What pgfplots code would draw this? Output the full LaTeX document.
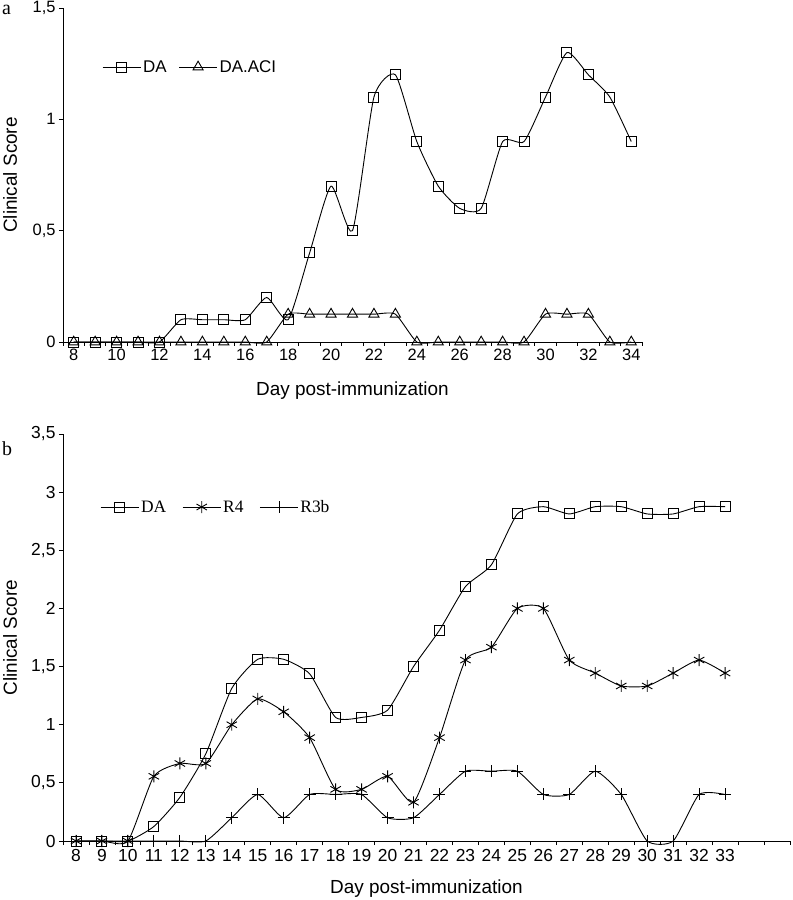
\documentclass[border=0pt]{standalone}
\usepackage{pgfplots}
\pgfplotsset{compat=1.18}
\usepackage{fontspec}
\setmainfont{Liberation Sans}
\newfontfamily\seriffont{Liberation Serif}

\pgfplotsset{
  clinical/.style={
    scale only axis,
    anchor=south west,
    axis x line=bottom, axis y line=left,
    axis line style={-, line width=0.8bp},
    tick align=outside,
    major tick length=4bp,
    tick style={line width=0.8bp, black},
    clip=false,
    xticklabels={},
    extra x tick style={major tick length=0pt},
    /pgf/number format/assume math mode=true,
    label style={font=\fontsize{19}{21}\selectfont},
    ylabel={Clinical Score},
    xlabel={Day post-immunization},
    legend style={draw=none, fill=none, inner sep=0pt, anchor=west, legend columns=-1},
    legend image code/.code={\draw[mark repeat=2,mark phase=2]
      plot coordinates {(0bp,0bp)(19bp,0bp)(38bp,0bp)};},
    every axis plot/.append style={black, line width=0.9bp, smooth, tension=0.35,
      mark options={solid, line width=0.9bp}},
  },
}

\begin{document}
\begin{tikzpicture}
\useasboundingbox (0,0) rectangle (793bp,900bp);

% panel a
\begin{axis}[clinical, at={(63bp,558bp)}, width=579bp, height=334bp,
  xmin=7.5, xmax=34.5, ymin=0, ymax=1.5,
  xtick={7.5,8.5,...,34.5},
  extra x ticks={8,10,...,34},
  extra x tick labels={8,10,12,14,16,18,20,22,24,26,28,30,32,34},
  ytick={0,0.5,1,1.5}, yticklabels={0,{0,5},1,{1,5}},
  tick label style={font=\fontsize{16.5}{18}\selectfont},
  xticklabel style={yshift=-4bp},
  xlabel style={at={(axis description cs:0.5,-0.1587)}, anchor=base},
  ylabel style={at={(axis description cs:-0.0915,0.5)}, anchor=center},
  legend style={at={(axis description cs:0.0674,0.8234)}, font=\fontsize{17}{19}\selectfont,
    /tikz/every even column/.append style={column sep=10bp}},
]
\addplot[mark=square, mark size=5bp] coordinates {
  (8,0)(9,0)(10,0)(11,0)(12,0)(13,0.1)(14,0.1)(15,0.1)(16,0.1)(17,0.2)
  (18,0.1)(19,0.4)(20,0.7)(21,0.5)(22,1.1)(23,1.2)(24,0.9)(25,0.7)(26,0.6)
  (27,0.6)(28,0.9)(29,0.9)(30,1.1)(31,1.3)(32,1.2)(33,1.1)(34,0.9)
};
\addlegendentry{DA}
\addplot[mark=triangle, mark size=5.8bp] coordinates {
  (8,0)(9,0)(10,0)(11,0)(12,0)(13,0)(14,0)(15,0)(16,0)(17,0)
  (18,0.125)(19,0.125)(20,0.125)(21,0.125)(22,0.125)(23,0.125)(24,0)(25,0)(26,0)
  (27,0)(28,0)(29,0)(30,0.125)(31,0.125)(32,0.125)(33,0)(34,0)
};
\addlegendentry{DA.ACI}
\end{axis}

% panel b
\begin{axis}[clinical, at={(63bp,59bp)}, width=727bp, height=407bp,
  xmin=7.5, xmax=35.5, ymin=0, ymax=3.5,
  xtick={7.5,8.5,...,35.5},
  extra x ticks={8,9,...,33},
  extra x tick labels={8,9,10,11,12,13,14,15,16,17,18,19,20,21,22,23,24,25,26,27,28,29,30,31,32,33},
  ytick={0,0.5,...,3.5}, yticklabels={0,{0,5},1,{1,5},2,{2,5},3,{3,5}},
  tick label style={font=\fontsize{17.5}{19}\selectfont},
  xticklabel style={yshift=-5bp},
  xlabel style={at={(axis description cs:0.5,-0.1278)}, anchor=base},
  ylabel style={at={(axis description cs:-0.0729,0.5)}, anchor=center},
  legend style={at={(axis description cs:0.0509,0.8206)}, font=\seriffont\fontsize{17.5}{19}\selectfont,
    /tikz/every even column/.append style={column sep=14bp}},
]
\addplot[mark=square, mark size=5bp] coordinates {
  (8,0)(9,0)(10,0)(11,0.125)(12,0.375)(13,0.75)(14,1.3125)(15,1.5625)(16,1.5625)
  (17,1.4375)(18,1.0625)(19,1.0625)(20,1.125)(21,1.5)(22,1.8125)(23,2.1875)
  (24,2.375)(25,2.8125)(26,2.875)(27,2.8125)(28,2.875)(29,2.875)(30,2.8125)
  (31,2.8125)(32,2.875)(33,2.875)
};
\addlegendentry{DA}
\addplot[mark=asterisk, mark size=6bp] coordinates {
  (8,0)(9,0)(10,0)(11,0.556)(12,0.667)(13,0.667)(14,1.0)(15,1.222)(16,1.111)
  (17,0.889)(18,0.444)(19,0.444)(20,0.556)(21,0.333)(22,0.889)(23,1.556)
  (24,1.667)(25,2.0)(26,2.0)(27,1.556)(28,1.444)(29,1.333)(30,1.333)
  (31,1.444)(32,1.556)(33,1.444)
};
\addlegendentry{R4}
\addplot[mark=+, mark size=6bp] coordinates {
  (8,0)(9,0)(10,0)(11,0)(12,0)(13,0)(14,0.2)(15,0.4)(16,0.2)
  (17,0.4)(18,0.4)(19,0.4)(20,0.2)(21,0.2)(22,0.4)(23,0.6)
  (24,0.6)(25,0.6)(26,0.4)(27,0.4)(28,0.6)(29,0.4)(30,0)
  (31,0)(32,0.4)(33,0.4)
};
\addlegendentry{R3b}
\end{axis}

\node[font=\seriffont\fontsize{20}{22}\selectfont, anchor=base west, inner sep=0pt] at (2bp,885bp) {a};
\node[font=\seriffont\fontsize{20}{22}\selectfont, anchor=base west, inner sep=0pt] at (2bp,444bp) {b};
\end{tikzpicture}
\end{document}
